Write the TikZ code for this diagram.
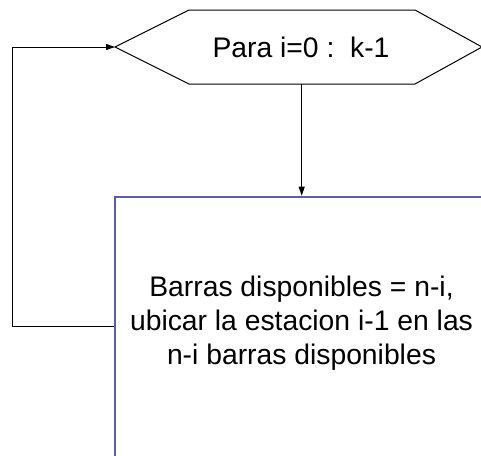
\documentclass[tikz,border=0pt]{standalone}
\usepackage{fontspec}
\setmainfont{Liberation Sans}
\usetikzlibrary{arrows.meta}
\definecolor{boxblue}{RGB}{92,92,176}
\tikzset{
  flow/.style={draw=black, line width=1pt},
  arr/.style={flow, -{Triangle[length=9pt,width=6pt]}},
  lbl/.style={font=\fontsize{28.3}{34}\selectfont, inner sep=0pt, align=center},
}
\begin{document}
\begin{tikzpicture}[x=1pt,y=-1pt]
\useasboundingbox (0,0) rectangle (481,455);
\clip (0,0) rectangle (481,455);
% hexagon
\coordinate (hL) at (115,47);
\coordinate (hTL) at (189,10);
\coordinate (hTR) at (415,10);
\coordinate (hR) at (482,47);
\coordinate (hBR) at (415,84);
\coordinate (hBL) at (189,84);
\draw[flow, fill=white] (hL) -- (hTL) -- (hTR) -- (hR) -- (hBR) -- (hBL) -- cycle;
\node[lbl, anchor=base] (para) at (301,57.7) {Para i=0 :\ \ k-1};
\coordinate (hB) at (301.7,84);
% box
\coordinate (bTL) at (115,196.7);
\draw[draw=boxblue, line width=2pt] (bTL) rectangle (495,470);
\node[lbl] (body) at (301.5,323) {Barras disponibles = n-i,\\ubicar la estacion i-1 en las\\n-i barras disponibles};
\coordinate (bT) at (301.7,195.7);
\coordinate (bL) at (114,326.7);
\coordinate (loopB) at (12,326.7);
\coordinate (loopT) at (12,47);
% connectors
\draw[arr] (hB) -- (bT);
\draw[arr] (bL) -- (loopB) -- (loopT) -- (hL);
\end{tikzpicture}
\end{document}
